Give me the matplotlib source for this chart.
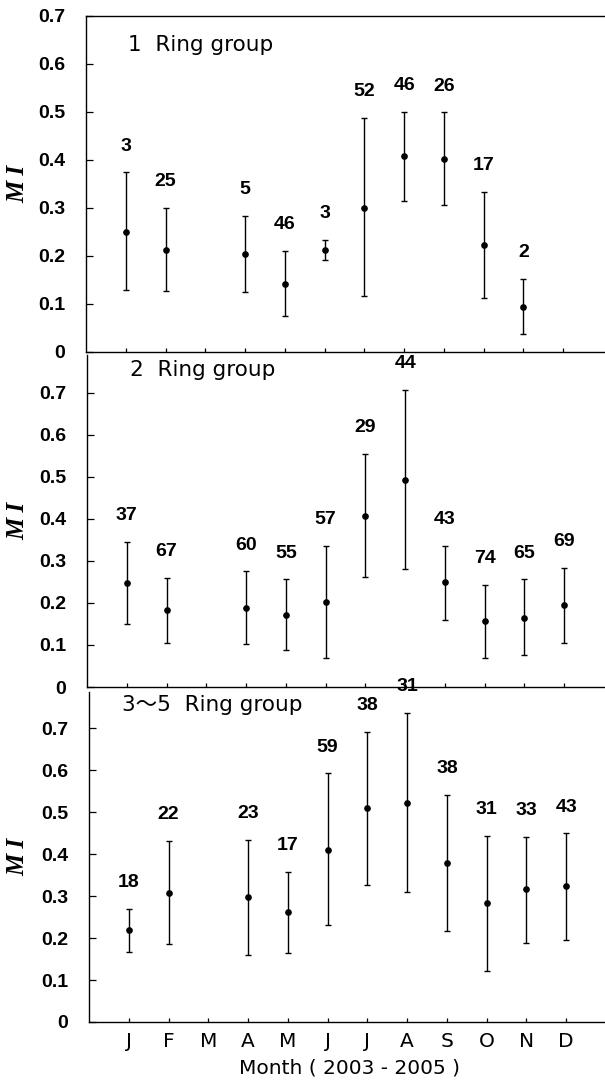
import numpy as np
import matplotlib.pyplot as plt
from matplotlib.ticker import FuncFormatter

plt.rcParams["font.family"] = ["DejaVu Sans", "Noto Sans CJK JP"]

months = ["J", "F", "M", "A", "M", "J", "J", "A", "S", "O", "N", "D"]
month_no = np.arange(1, 13)
nan = np.nan

# 1 ring group (no samples in March and December)
mi_1 = [0.251, 0.213, nan, 0.204, 0.142, 0.212, 0.301, 0.408, 0.403, 0.222, 0.094, nan]
high_1 = [0.374, 0.301, nan, 0.284, 0.210, 0.233, 0.487, 0.501, 0.499, 0.333, 0.153, nan]
low_1 = [0.130, 0.127, nan, 0.125, 0.074, 0.192, 0.117, 0.315, 0.306, 0.113, 0.038, nan]
n_1 = [3, 25, None, 5, 46, 3, 52, 46, 26, 17, 2, None]

# 2 ring group
mi_2 = [0.248, 0.183, nan, 0.189, 0.171, 0.203, 0.408, 0.493, 0.249, 0.156, 0.165, 0.194]
high_2 = [0.345, 0.260, nan, 0.275, 0.256, 0.336, 0.554, 0.706, 0.336, 0.243, 0.256, 0.283]
low_2 = [0.149, 0.105, nan, 0.102, 0.088, 0.068, 0.262, 0.280, 0.159, 0.069, 0.075, 0.105]
n_2 = [37, 67, None, 60, 55, 57, 29, 44, 43, 74, 65, 69]

# 3-5 ring group
mi_3 = [0.219, 0.308, nan, 0.297, 0.261, 0.410, 0.509, 0.522, 0.378, 0.283, 0.317, 0.324]
high_3 = [0.270, 0.432, nan, 0.433, 0.358, 0.592, 0.690, 0.737, 0.540, 0.443, 0.441, 0.449]
low_3 = [0.167, 0.185, nan, 0.159, 0.165, 0.231, 0.327, 0.310, 0.217, 0.121, 0.189, 0.196]
n_3 = [18, 22, None, 23, 17, 59, 38, 31, 38, 31, 33, 43]

titles = ["1  Ring group", "2  Ring group", "3\u301c5  Ring group"]

W, H = 605, 1082
fig = plt.figure(figsize=(W / 100, H / 100), dpi=100)

# panel boxes in pixels: left, top, bottom, ylim top, title x/y (axes fraction)
boxes = [
    (86, 16, 352, 0.7, 0.081, 0.914),
    (87, 355, 687, 0.79, 0.083, 0.955),
    (89, 692, 1022, 0.786, 0.064, 0.960),
]
panels = [(mi_1, low_1, high_1, n_1), (mi_2, low_2, high_2, n_2), (mi_3, low_3, high_3, n_3)]

num_font = dict(family="Liberation Sans", fontweight="bold", fontsize=14)
width_px = 521

for i, ((left, top, bottom, ytop, tx, ty), (mi, low, high, n)) in enumerate(zip(boxes, panels)):
    ax = fig.add_axes([left / W, (H - bottom) / H, width_px / W, (bottom - top) / H])
    mi = np.asarray(mi, dtype=float)
    low = np.asarray(low, dtype=float)
    high = np.asarray(high, dtype=float)
    ok = ~np.isnan(mi)
    x = month_no[ok]
    yerr = np.vstack([mi[ok] - low[ok], high[ok] - mi[ok]])
    ax.errorbar(x, mi[ok], yerr=yerr, fmt="o", color="black", ms=3.8,
                elinewidth=1.0, capsize=2.4, capthick=1.0)
    for xi, top_val, count in zip(month_no, high, n):
        if count is None:
            continue
        ax.annotate(str(count), (xi, top_val), xytext=(0, 19),
                    textcoords="offset points", ha="center", va="center", **num_font)

    ax.set_xlim(0, 13.1)
    ax.set_ylim(0, ytop)
    ax.set_yticks(np.arange(0, 0.71, 0.1))
    ax.yaxis.set_major_formatter(FuncFormatter(lambda v, p: "0" if abs(v) < 1e-9 else f"{v:.1f}"))
    ax.set_xticks(month_no)
    ax.tick_params(axis="y", direction="in", length=5, width=0.9, pad=15)
    ax.tick_params(axis="x", direction="in", length=3, width=0.9, pad=7)
    for lab in ax.get_yticklabels():
        lab.set_fontproperties("Liberation Sans")
        lab.set_fontweight("bold")
        lab.set_fontsize(14)
    ax.spines["right"].set_visible(False)
    if i > 0:
        ax.spines["top"].set_visible(False)
    for sp in ax.spines.values():
        sp.set_linewidth(1.0)

    ax.text(tx, ty, titles[i], transform=ax.transAxes, ha="left", va="center", fontsize=15.5)

    ax.set_ylabel("M I", family="Liberation Serif", fontstyle="italic", fontweight="bold",
                  fontsize=18, va="center")
    ax.yaxis.set_label_coords(-(left - 18) / width_px, 0.5)

    if i < 2:
        ax.set_xticklabels([])
    else:
        ax.set_xticklabels(months, fontsize=14.5)
        ax.set_xlabel("Month ( 2003 - 2005 )", fontsize=14.5, va="center")
        ax.xaxis.set_label_coords(0.5, -(1068 - bottom) / (bottom - top))

fig.savefig("out.png", dpi=100)
